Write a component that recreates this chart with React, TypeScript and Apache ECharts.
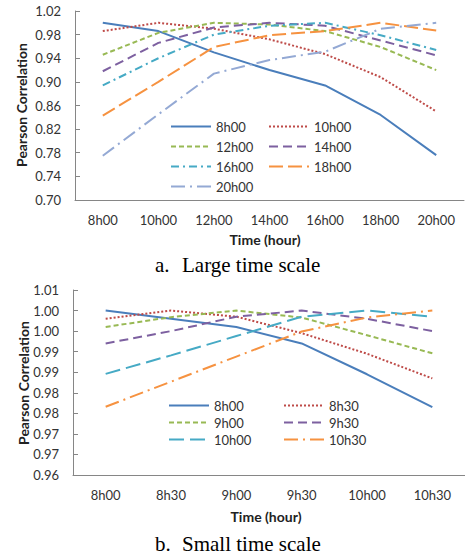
import React, { useEffect, useRef } from "react";
import * as echarts from "echarts";

// ---- Chart a: Large time scale ----
const timesA = ["8h00", "10h00", "12h00", "14h00", "16h00", "18h00", "20h00"];
const a8h00 = [1.0, 0.986, 0.95, 0.92, 0.894, 0.844, 0.776];
const a10h00 = [0.986, 1.0, 0.99, 0.972, 0.947, 0.908, 0.85];
const a12h00 = [0.946, 0.983, 1.0, 0.997, 0.986, 0.959, 0.92];
const a14h00 = [0.918, 0.966, 0.992, 1.0, 0.995, 0.97, 0.945];
const a16h00 = [0.894, 0.94, 0.98, 0.995, 1.0, 0.979, 0.954];
const a18h00 = [0.843, 0.9, 0.959, 0.979, 0.986, 1.0, 0.987];
const a20h00 = [0.775, 0.845, 0.914, 0.937, 0.951, 0.99, 1.0];
const seriesNamesA = ["8h00", "10h00", "12h00", "14h00", "16h00", "18h00", "20h00"];

// ---- Chart b: Small time scale ----
const timesB = ["8h00", "8h30", "9h00", "9h30", "10h00", "10h30"];
const b8h00 = [1.0, 0.998, 0.996, 0.992, 0.9845, 0.9765];
const b8h30 = [0.998, 1.0, 0.9985, 0.9945, 0.9895, 0.9835];
const b9h00 = [0.996, 0.9984, 1.0, 0.9983, 0.994, 0.9896];
const b9h30 = [0.992, 0.995, 0.9985, 1.0, 0.998, 0.995];
const b10h00 = [0.9846, 0.9891, 0.9938, 0.9985, 1.0, 0.9985];
const b10h30 = [0.9766, 0.9827, 0.9888, 0.9949, 0.9983, 1.0];
const seriesNamesB = ["8h00", "8h30", "9h00", "9h30", "10h00", "10h30"];

const FONT = "Lato, 'Open Sans', sans-serif";
const AXIS = "#868686";
const TXT = "#333333";

const C = {
  blue: "#4A7EBB",
  red: "#BE4B48",
  green: "#98B954",
  purple: "#7D60A0",
  teal: "#46AAC5",
  orange: "#F69240",
  light: "#94A9D4",
};

function fmt(v: number) {
  return (Math.round(v * 1000) / 1000 + 1e-9).toFixed(2);
}

const mk = (name: string, data: number[], color: string, dash: any) => ({
  type: "line",
  name,
  data,
  symbol: "none",
  showSymbol: false,
  color,
  itemStyle: { color },
  lineStyle: { color, width: 2, type: dash },
});

const xAxisCommon = {
  type: "category",
  boundaryGap: true,
  axisLine: { lineStyle: { color: AXIS, width: 1 } },
  axisTick: { inside: true, length: 5, lineStyle: { color: AXIS } },
  axisLabel: { color: TXT, fontFamily: FONT, fontSize: 13, margin: 13 },
  splitLine: { show: false },
};
const yAxisCommon = {
  type: "value",
  axisLine: { show: true, lineStyle: { color: AXIS, width: 1 } },
  axisTick: { show: true, inside: true, length: 5, lineStyle: { color: AXIS } },
  axisLabel: { color: TXT, fontFamily: FONT, fontSize: 13, margin: 14, formatter: (v: number) => fmt(v) },
  splitLine: { show: false },
};
const legendCommon = {
  orient: "vertical",
  itemWidth: 40,
  itemHeight: 14,
  itemStyle: { opacity: 0 },
  textStyle: { color: TXT, fontFamily: FONT, fontSize: 13 },
  selectedMode: false,
  padding: 0,
};
const titleStyle = (text: string, size: number) => ({
  text,
  fill: "#222",
  fontFamily: FONT,
  fontWeight: "bold",
  fontSize: size,
  align: "center",
  verticalAlign: "middle",
});
const capStyle = (text: string) => ({
  text,
  fill: "#000",
  fontFamily: "'Liberation Serif', 'Times New Roman', serif",
  fontSize: 21,
  align: "left",
  verticalAlign: "middle",
});

function optionA() {
  return {
    animation: false,
    backgroundColor: "#ffffff",
    grid: { left: 75, top: 11, width: 389, height: 189 },
    xAxis: { ...xAxisCommon, data: timesA },
    yAxis: { ...yAxisCommon, min: 0.7, max: 1.02, interval: 0.04 },
    legend: [
      { ...legendCommon, left: 170, top: 120, itemGap: 7, data: ["8h00", "12h00", "16h00", "20h00"] },
      { ...legendCommon, left: 268, top: 120, itemGap: 7, data: ["10h00", "14h00", "18h00"] },
    ],
    graphic: [
      { type: "text", x: 21, y: 105, rotation: Math.PI / 2, style: titleStyle("Pearson Correlation", 14) },
      { type: "text", x: 265, y: 239, style: titleStyle("Time (hour)", 14) },
      { type: "text", x: 155, y: 265, style: capStyle("a.") },
      { type: "text", x: 182, y: 265, style: capStyle("Large time scale") },
    ],
    series: [
      mk(seriesNamesA[0], a8h00, C.blue, "solid"),
      mk(seriesNamesA[1], a10h00, C.red, [2, 2]),
      mk(seriesNamesA[2], a12h00, C.green, [5, 3]),
      mk(seriesNamesA[3], a14h00, C.purple, [9, 5]),
      mk(seriesNamesA[4], a16h00, C.teal, [8, 4, 2, 4]),
      mk(seriesNamesA[5], a18h00, C.orange, [14, 5]),
      mk(seriesNamesA[6], a20h00, C.light, [14, 5, 2, 5]),
    ],
  };
}

function optionB() {
  return {
    animation: false,
    backgroundColor: "#ffffff",
    grid: { left: 73, top: 10, width: 392, height: 185 },
    xAxis: { ...xAxisCommon, data: timesB },
    yAxis: { ...yAxisCommon, min: 0.96, max: 1.005, interval: 0.005 },
    legend: [
      { ...legendCommon, left: 168, top: 119, itemGap: 4, data: ["8h00", "9h00", "10h00"] },
      { ...legendCommon, left: 283, top: 119, itemGap: 4, data: ["8h30", "9h30", "10h30"] },
    ],
    graphic: [
      { type: "text", x: 23, y: 103, rotation: Math.PI / 2, style: titleStyle("Pearson Correlation", 14) },
      { type: "text", x: 266, y: 236, style: titleStyle("Time (hour)", 14) },
      { type: "text", x: 155, y: 264, style: capStyle("b.") },
      { type: "text", x: 182, y: 264, style: capStyle("Small time scale") },
    ],
    series: [
      mk(seriesNamesB[0], b8h00, C.blue, "solid"),
      mk(seriesNamesB[1], b8h30, C.red, [2, 2]),
      mk(seriesNamesB[2], b9h00, C.green, [5, 3]),
      mk(seriesNamesB[3], b9h30, C.purple, [9, 5]),
      mk(seriesNamesB[4], b10h00, C.teal, [15, 6]),
      mk(seriesNamesB[5], b10h30, C.orange, [14, 5, 2, 5]),
    ],
  };
}

function Chart({ top, height, option }: { top: number; height: number; option: any }) {
  const ref = useRef<HTMLDivElement>(null);
  useEffect(() => {
    if (!ref.current) return;
    const chart = echarts.init(ref.current, undefined, { renderer: "svg" });
    chart.setOption(option);
    return () => chart.dispose();
  }, []);
  return (
    <div
      ref={ref}
      style={{ position: "absolute", left: 0, top, width: 465, height, background: "#fff" }}
    />
  );
}

export default function App() {
  return (
    <div style={{ position: "absolute", left: 0, top: 0, width: 465, height: 559, background: "#fff" }}>
      <Chart top={0} height={280} option={optionA()} />
      <Chart top={280} height={279} option={optionB()} />
    </div>
  );
}
